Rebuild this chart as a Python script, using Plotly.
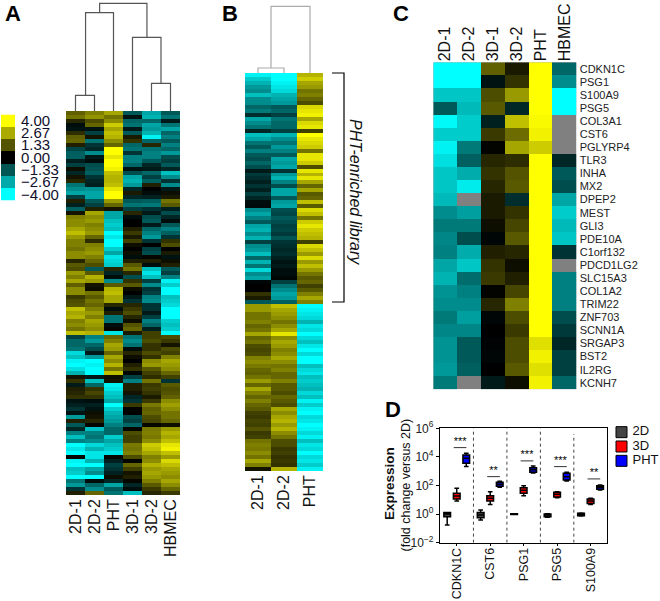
#!/usr/bin/env python
import plotly.graph_objects as go

W, H = 660, 601
FONT = 'Liberation Sans'

# panel A: clustered heatmap, one list per sample
a_samples = ['2D-1', '2D-2', 'PHT', '3D-1', '3D-2', 'HBMEC']
a_2d1 = [1.5, 1.8, 0.6, -0.2, -0.3, 0.7, 1.5, 1.6, 0.5, -1.1, -1.5, -1.5, -0.5, -1, 0.2, -0.6,
         0.3, 0.6, -1.8, -2.2, -2.6, -1, 0.5, -0.5, -1.5, 0.3, 2, 2.2, 2.2, 2.6, 3, 2.4,
         2, 2, 1.8, 2.2, 2.2, 0.6, 1.4, 1.2, 2.4, 2, 2.6, 1.5, 2.2, 2.2, 0.9, 1.2,
         1.3, 3, 2.6, 2.8, 2, 2.2, 1.8, 3, -1, -1.6, -1.6, -1.8, -3.4, -3, -3.8, -4,
         -3.5, -2.8, 0.3, 0.8, -0.4, 0.5, 0.6, 0.8, -0.3, -0.5, -0.8, -0.3, -2.4, 0.5, -1.4, -0.6,
         -2, -3, -2, -4, -3.6, -4, 0.1, -3.8, -4, -3, -3.2, -4, -1.8, -2.4, -0.8, 0.5]
a_2d2 = [2, 2.3, 1.2, 1.6, -0.3, -1, 0.3, -1.8, -0.8, -0.6, -2.2, -0.4, -0.2, -1.2, -1.3, -1.5,
         -0.8, -0.6, -0.5, -2.3, -2.6, -2.6, -1.4, -1, 0.5, 2.6, 2.2, 2.4, 2, 2.2, 2.4, 1.6,
         0.7, 2, 2.2, 2.4, 2, 1.6, 1.2, -1.4, 1.4, 2.8, 2.4, 0.3, 0.2, 1.8, 1.4, 1.8,
         1.6, 2, 2.4, 2, 2.6, 2.4, 2.2, 2.8, -2, -2.4, -1.6, -1.2, -0.4, -2.4, -4, -3.8,
         -4, -4, -0.4, -3, -1.6, 0.8, 1.1, 0.8, -0.2, -0.5, -0.3, 0.2, 0.3, 0.6, 0.1, -3,
         -2, -1.8, -2.2, -3.4, -2.8, -3.6, -3.6, -2.8, -4, -2.6, -2.2, -4, -0.2, -1.6, -2.2, 1.6]
a_pht = [2.6, 1.8, 2.2, 3.2, 2.6, 3, 2.8, 2.2, 1.6, 4, 4, 3.6, 4, 4, 3.8, 3,
         2.8, 2.8, 3, 3.6, 4, 4, 2.4, 1.6, 0.3, -2.6, -2.6, -3, -3.2, -3, -4, -3.6,
         -4, -4, -3.2, -2.6, -3.6, -3.4, -3.2, 0.6, -0.6, -0.2, -2.2, 1.4, 2.8, 3, 2.6, 2.6,
         0.6, -0.2, 0.5, -1.8, -1.8, -0.2, 0.1, -3.6, 1.6, 2, 2.6, 2.4, 1.6, 2.6, 2.2, 2.8,
         1.8, 3, 0.2, 0.3, -3.8, -3.6, -3.2, -3, -2.6, -4, -3.2, -2.8, -2.6, -2.4, -2, -1.6,
         -1.6, -3.2, -2.6, -3, -3.2, -3.6, 0.1, -0.5, -1, -0.8, -0.5, 0.2, -0.6, -2.6, -1.4, -1.8]
a_3d1 = [-1.4, -0.3, -1.6, -1.8, -0.4, -1.4, 0.4, 0.8, -1.6, -1.8, -0.8, -2, -2, -1.6, -0.3, -1.2,
         -2.6, -2.8, -2.4, -0.6, 0.4, -0.6, -1.4, -1.8, -1, 0.6, -0.2, 0, 0, 0.5, 0.9, 0.4,
         1, 0.2, 0, 0.2, -0.2, 0.5, 1.4, 1.8, 0.6, -1.2, 0.8, 1.4, 0.2, 0, -0.4, -0.8,
         0.6, 0.9, 1.2, 0.6, 0.2, 1.3, 1.6, 0.4, -1.8, -2.2, -1.8, -0.2, 0.6, 0.2, 0, 0.5,
         0.8, -0.1, -1, -2, 0.5, 0.5, 0.3, -0.6, -0.8, 0.9, 0.05, 0, -1.2, -1, -1.6, 0.1,
         1.2, 1, 1, 1.9, 1.8, 2, 1.2, 0.1, 1.6, 1, 0.3, 0.5, 0.1, -0.6, -0.2, -3]
a_3d2 = [-2.6, -2.8, -1.6, -2.6, -2.4, -2.8, -3.8, -1.6, 0.6, -1.8, -2, -2, -1.4, -0.6, -0.4, -1.6,
         -1, -1.5, 0.5, 0, -0.2, -0.5, -1.5, -1.9, -0.8, -0.4, -1.2, -1.4, -0.4, -1.6, -2, -2.4,
         -0.8, 0, -1, -1.2, 0.1, 0.5, -0.2, -3, -3.6, -3, -1, -2.2, -0.8, -1, -2, -2.2,
         -0.8, -0.8, -0.4, -1, -2, -1.6, -0.5, 1, 1, 1.2, 0.8, 0.8, 1.2, 0.8, 2.2, 2.4,
         1.4, 1, 0.7, 1.8, 0.9, 1, 0.8, 0.4, 0.9, 1.9, 1.5, 1.6, 1.2, 1.1, 0.1, 1.9,
         2, 1.9, 2.2, 3.2, 3, 2.6, 2, 2.2, 2.8, 2.4, 2.6, 2.4, 2, 1.4, 0.9, 0.6]
a_hbmec = [-1.4, -1.8, -0.4, -1.8, -2.6, -1.6, -2, -1.4, -2, -1.6, -2.4, -1.2, -1, -1.4, -0.6, -3,
           -2.2, -0.8, -2.2, -0.4, 0.2, 0.4, 1.8, 1.4, -0.5, -1.2, -0.6, -0.2, -1.4, -2, -1.5, -0.8,
           0.8, 1.2, 0, 0.4, -0.3, 0.2, 0.5, -1.4, -1, -2, -3.8, -3.2, -4, -4, -3, -3.2,
           -3.4, -4, -4, -4, -3.2, -3, -3.2, -4, 1.2, 0.9, 0.3, 1.2, 1, 2, 2.6, 2.4,
           2.2, 1.6, 1, -0.8, 1.4, 1.2, 1.3, 1.5, 2.2, 2.5, 2.2, 1.8, 1.8, 1.6, 0.2, 2.4,
           2.8, 2.6, 3, 3.6, 3.8, 3, 2.4, 3.4, 3, 2.6, 2.4, 2.2, 2.6, 2.2, 1.6, 0.9]
# merges: left pos, right pos, left height, right height, height
a_merge_left = [0, 0.53, 4, 3, 1.27]
a_merge_right = [1, 2, 5, 4.5, 3.76]
a_merge_lh = [0, 15.7, 0, 0, 98.3]
a_merge_rh = [0, 0, 0, 27.7, 73.7]
a_merge_h = [15.7, 98.3, 27.7, 73.7, 107.7]

key_values = [4, 2.67, 1.33, 0, -1.33, -2.67, -4]
key_labels = ['4.00', '2.67', '1.33', '0.00', '\u22121.33', '\u22122.67', '\u22124.00']

# panel B
b_samples = ['2D-1', '2D-2', 'PHT']
b_2d1 = [-3.8, -3.2, -2.8, -2.4, -2.2, -3, -2.2, -2.2, -1.6, -1.9, -0.7, -2.6, -2.2, -1.8, -0.6, -3, -2.6,
         -1.8, -1.4, -2, -1.4, -1.2, -1.6, -1.2, -0.4, -0.9, -0.7, -0.5, -0.8, -0.5, -1, -0.6, -0.2,
         -0.15, -2.2, -2.6, -2, -1.4, -2.6, -2.8, -2.2, -2.8, -1, -2.2, -2.4, -3, -1.6, -2.8, -1.8, -3.4,
         -2.2, -2.6, -0.1, 0, 0, 0.8, 0.4, -1.4, 2.4, 2.4, 1.8, 1.8, 2, 1.6, 1.8, 2.6, 1.6,
         1.8, 1.2, 1.1, 1.2, 2, 2.2, 1.9, 1.6, 1.5, 1.8, 2.4, 1.6, 2.6, 2, 1.6, 2, 1.6,
         1.4, 1, 0.9, 1.1, 1, 1.3, 0.9, 1, 1.8, 2, 1.9, 2.2, 1.8, 2.6, 2, 0.3]
b_2d2 = [-4, -4, -3.8, -3.6, -3.4, -2.8, -2.6, -2.4, -1.4, -1.6, -1, -1.8, -1.6, -1.6, -1, -2.8, -2.2,
         -1.8, -2.4, -2, -1.4, -2.6, -2.4, -2.6, -0.8, -2.4, -2.8, -2, -1.2, -2.6, -2.6, -1.4, -2.4,
         -2.6, -1.2, -1.1, -1.4, -1.2, -1, -1.1, -0.9, -1.3, -0.8, -0.7, -0.6, -0.7, -0.5, -0.3, -0.4, -0.2,
         -0.2, -0.1, -1, -1.8, -2.2, -2.6, -2.4, -1.5, 3, 2.6, 2.4, 2.2, 1.8, 2.2, 2.6, 3.6, 2.2,
         2.6, 2.4, 2, 2.2, 2.6, 2.2, 1.8, 2, 1.6, 1.6, 2, 1.4, 1.4, 1.2, 1.6, 1.4, 1.2,
         2.6, 2.2, 2.6, 2.8, 2.4, 2.8, 2.2, 1.8, 1.2, 1.2, 0.9, 1, 0.8, 0.9, 0.8, 2.8]
b_pht = [2.8, 3.2, 2.6, 2.4, 1.8, 2, 1.6, 1.2, 3.4, 3.6, 3.8, 2.6, 3.4, 3.6, 1, 4, 3.6,
         3.4, 3.2, 1.8, 3.6, 3.6, 3.2, 1.2, 3.6, 2.8, 3.6, 2.6, 1.6, 2.6, 1.4, 1.6, 3,
         1.4, 3.4, 3, 1.8, 3.2, 3.6, 3.2, 3, 2.8, 1, 3.4, 3, 2.4, 3.4, 2.4, 3, 2.4,
         1.8, 1.4, 1.6, 1, 1.4, 2, 2.6, 2, -4, -3.8, -3.6, -3.4, -2.8, -3.6, -3.4, -4, -3.4,
         -3, -3.6, -4, -3.4, -4, -4, -3, -3.4, -3.6, -3, -3.2, -3, -2.8, -3.4, -3, -3.8, -3.2,
         -3.8, -4, -3.4, -3.6, -4, -3.8, -3.4, -3.8, -3, -3.6, -3.4, -4, -3.4, -3.6, -3.2, -3.8]
b_merge_left = [0, 0.5]
b_merge_right = [1, 2]
b_merge_lh = [0, 5]
b_merge_rh = [0, 0]
b_merge_h = [5, 66.7]

# panel C, None = no measurement (grey)
c_samples = ['2D-1', '2D-2', '3D-1', '3D-2', 'PHT', 'HBMEC']
c_genes = ['CDKN1C', 'PSG1', 'S100A9', 'PSG5', 'COL3A1', 'CST6', 'PGLYRP4', 'TLR3', 'INHA', 'MX2',
           'DPEP2', 'MEST', 'GLI3', 'PDE10A', 'C1orf132', 'PDCD1LG2', 'SLC15A3', 'COL1A2', 'TRIM22',
           'ZNF703', 'SCNN1A', 'SRGAP3', 'BST2', 'IL2RG', 'KCNH7']
c_2d1 = [-4, -4, -3.1, -1.4, -3.9, -3.2, -3.8, -3.5, -3.1, -3.1, -2.9, -2.2, -1.9, -2.1, -2, -2.6, -2.8, -2.3,
         -2.2, -1.9, -2.1, -2.3, -2.3, -2.4, -1.9]
c_2d2 = [-4, -4, -3.1, -2.9, -3.2, -3.2, -1.9, -1.5, -2.7, -3.7, None, -2.5, -1.9, -1.2, -2.7, -3.1, -1.7, -2,
         -2.2, -2.5, -2.1, -1.4, -1.4, -1.5, None]
c_3d1 = [1.5, -0.3, 1.2, 1.4, -0.5, 0.9, 0.05, 0.6, 0.8, 0.6, 0.4, 0.4, 0.2, -0.1, 0.5, 0.8, 0.9, 0.05,
         0.6, -0.1, 0, -0.05, -0.1, 0, -0.4]
c_3d2 = [0.4, 0.8, 2.4, -0.6, 3, 1.7, 2.6, 0.7, 1.3, 1.4, -0.7, 0.8, 1.1, 1.4, 0.6, 0.2, 0.5, 1.1,
         2, 1.2, 0.9, 1.2, 1.2, 1.4, 0.2]
c_pht = [4, 4, 4, 4, 3.9, 3.8, 3.2, 4, 4, 4, 4, 4, 4, 4, 4, 4, 4, 4,
         4, 4, 4, 3.5, 3.8, 3.5, 3.8]
c_hbmec = [-1.6, -2.2, -4, -4, None, None, None, -0.6, -1.4, -1.2, -2.6, -3.2, -2.9, -3.1, -0.8, None, -2, -2,
           -2, -1.2, -0.9, -0.6, -1, -1, -1.6]

# panel D, box stats as log10 fold change
d_genes = ['CDKN1C', 'CST6', 'PSG1', 'PSG5', 'S100A9']
d_groups = ['2D', '3D', 'PHT']
d_colors = ['#444444', '#ff0000', '#0000ff']
d_offsets = [-0.285, 0, 0.285]
d_low = [[-0.76, -0.41, -0.03, -0.22, -0.14], [0.92, 0.68, 1.29, 1.15, 0.68], [3.32, 1.88, 2.88, 2.32, 1.68]]
d_q1 = [[-0.18, -0.25, -0.02, -0.18, -0.12], [1.06, 0.92, 1.45, 1.2, 0.75], [3.55, 1.94, 2.92, 2.39, 1.73]]
d_med = [[0, -0.06, 0, -0.06, 0], [1.27, 1.1, 1.66, 1.38, 0.92], [3.9, 2.08, 3.1, 2.62, 1.87]]
d_q3 = [[0.12, 0.12, 0.02, 0, 0.06], [1.45, 1.29, 1.85, 1.52, 1.06], [4.13, 2.22, 3.25, 2.85, 1.99]]
d_high = [[0.12, 0.29, 0.03, 0.02, 0.08], [1.8, 1.57, 1.99, 1.57, 1.1], [4.25, 2.3, 3.37, 2.92, 2.03]]
sig_level = [4.65, 2.62, 3.72, 3.32, 2.46]
sig_label = ['***', '**', '***', '***', '**']
sig_start = [-0.09, -0.09, -0.09, -0.09, -0.09]
sig_end = [0.29, 0.29, 0.29, 0.29, 0.29]
sep_pos = [0.5, 1.5, 2.5, 3.5]
sep_top = [6, 6, 6, 5.6]
d_ticks = [-2, 0, 2, 4, 6]

# -4 cyan, 0 black, +4 yellow
heat_scale = [[0, '#00ffff'], [0.5, '#000000'], [1, '#ffff00']]
heat_style = dict(zmin=-4, zmax=4, colorscale=heat_scale, showscale=False, hoverinfo='skip')

layout = dict(width=W, height=H, margin=dict(l=0, r=0, t=0, b=0), autosize=False, template='none',
              paper_bgcolor='white', plot_bgcolor='white', showlegend=False,
              font=dict(family=FONT, color='#111111'))


def place(n, x0, x1, y0, y1, xextra=None, yextra=None):
    # axes given by their pixel box on the page
    blank = dict(showgrid=False, zeroline=False, showticklabels=False, ticks='', showline=False, automargin=False)
    xa = dict(blank, domain=[x0 / W, x1 / W], anchor=f'y{n}')
    ya = dict(blank, domain=[1 - y1 / H, 1 - y0 / H], anchor=f'x{n}')
    xa.update(xextra or {})
    ya.update(yextra or {})
    layout[f'xaxis{n}'] = xa
    layout[f'yaxis{n}'] = ya
    return f'x{n}', f'y{n}'


def rows_of(cols):
    return [list(r) for r in zip(*cols)]


def dendro(left, right, lh, rh, h, xa, ya, color):
    xs, ys = [], []
    for i in range(len(h)):
        xs += [left[i], left[i], right[i], right[i], None]
        ys += [lh[i], h[i], h[i], rh[i], None]
    return go.Scatter(x=xs, y=ys, mode='lines', xaxis=xa, yaxis=ya, hoverinfo='skip',
                      line=dict(color=color, width=1.2))


def label_ticks(names, size, **extra):
    return dict(tickmode='array', tickvals=list(range(len(names))), ticktext=names, showticklabels=True,
                tickangle=-90, tickfont=dict(size=size, color='#111111'), ticks='', **extra)


fig = go.Figure()

# A
a_cols = [a_2d1, a_2d2, a_pht, a_3d1, a_3d2, a_hbmec]
xa, ya = place(1, 66, 180, 111, 495, label_ticks(a_samples, 16, range=[-0.5, 5.5]),
               dict(range=[len(a_2d1) - 0.5, -0.5]))
fig.add_trace(go.Heatmap(z=rows_of(a_cols), xaxis=xa, yaxis=ya, **heat_style))
xa, ya = place(2, 66, 180, 0, 111, dict(range=[-0.5, 5.5]), dict(range=[0, 111]))
fig.add_trace(dendro(a_merge_left, a_merge_right, a_merge_lh, a_merge_rh, a_merge_h, xa, ya, '#555555'))
xa, ya = place(3, 1, 15, 114.5, 200.5, dict(range=[-0.5, 0.5]),
               dict(range=[6.5, -0.5], tickmode='array', tickvals=list(range(7)), ticktext=key_labels,
                    showticklabels=True, side='right', ticklen=2, ticks='outside', tickcolor='white',
                    tickfont=dict(size=15, color='#10102a')))
fig.add_trace(go.Heatmap(z=[[v] for v in key_values], xaxis=xa, yaxis=ya, **heat_style))

# B
b_cols = [b_2d1, b_2d2, b_pht]
xa, ya = place(4, 245, 323, 73, 471, label_ticks(b_samples, 16, range=[-0.5, 2.5]),
               dict(range=[len(b_2d1) - 0.5, -0.5]))
fig.add_trace(go.Heatmap(z=rows_of(b_cols), xaxis=xa, yaxis=ya, **heat_style))
xa, ya = place(5, 245, 323, 0, 73, dict(range=[-0.5, 2.5]), dict(range=[0, 73]))
fig.add_trace(dendro(b_merge_left, b_merge_right, b_merge_lh, b_merge_rh, b_merge_h, xa, ya, '#aaaaaa'))

# C, grey layer under the heatmap shows through the missing cells
c_cols = [c_2d1, c_2d2, c_3d1, c_3d2, c_pht, c_hbmec]
xa, ya = place(6, 433.3, 576.7, 62.3, 389.3, label_ticks(c_samples, 16, range=[-0.5, 5.5], side='top'),
               dict(range=[24.5, -0.5], tickmode='array', tickvals=list(range(25)), ticktext=c_genes,
                    showticklabels=True, side='right', ticks='', ticklabelstandoff=2,
                    tickfont=dict(size=11, color='#222222')))
fig.add_trace(go.Heatmap(z=[[0] * 6 for g in c_genes], xaxis=xa, yaxis=ya, showscale=False, hoverinfo='skip',
                         colorscale=[[0, '#808080'], [1, '#808080']]))
fig.add_trace(go.Heatmap(z=rows_of(c_cols), xaxis=xa, yaxis=ya, **heat_style))

# D
xa, ya = place(7, 440, 607.3, 428.3, 542.7,
               dict(range=[-0.5, 4.5], tickmode='array', tickvals=list(range(5)), ticktext=d_genes,
                    showticklabels=True, tickangle=-90, ticks='outside', ticklen=2, tickwidth=1, tickcolor='black',
                    ticklabelstandoff=-3, tickfont=dict(size=12.5, color='#111111'), showline=True, linecolor='black',
                    linewidth=1.3, mirror=True),
               dict(type='log', range=[-2, 6], tickmode='array', tickvals=[10.0 ** t for t in d_ticks],
                    ticktext=[f'10<sup>{t}</sup>'.replace('-', '\u2212') for t in d_ticks], showticklabels=True,
                    ticks='outside', ticklen=3, tickwidth=1, tickcolor='black', tickfont=dict(size=12, color='#222222'),
                    showline=True, linecolor='black', linewidth=1.3, mirror=True))
sx, sy = [], []
for p, top in zip(sep_pos, sep_top):
    sx += [p, p, None]
    sy += [0.01, 10.0 ** top, None]
fig.add_trace(go.Scatter(x=sx, y=sy, mode='lines', xaxis=xa, yaxis=ya, hoverinfo='skip',
                         line=dict(color='#444444', width=1, dash='dot')))
for g, name in enumerate(d_groups):
    fig.add_trace(go.Box(name=name, x=[i + d_offsets[g] for i in range(5)],
                         lowerfence=[10.0 ** v for v in d_low[g]], q1=[10.0 ** v for v in d_q1[g]],
                         median=[10.0 ** v for v in d_med[g]], q3=[10.0 ** v for v in d_q3[g]],
                         upperfence=[10.0 ** v for v in d_high[g]], width=0.2, whiskerwidth=0.7,
                         fillcolor=d_colors[g], line=dict(color='black', width=1.5), xaxis=xa, yaxis=ya,
                         hoverinfo='skip'))
lx, ly = [], []
for i in range(5):
    lx += [i + sig_start[i], i + sig_end[i], None]
    ly += [10.0 ** sig_level[i], 10.0 ** sig_level[i], None]
fig.add_trace(go.Scatter(x=lx, y=ly, mode='lines', xaxis=xa, yaxis=ya, hoverinfo='skip',
                         line=dict(color='#333333', width=1)))
fig.add_trace(go.Scatter(x=[i + (sig_start[i] + sig_end[i]) / 2 for i in range(5)],
                         y=[10.0 ** v for v in sig_level], text=sig_label, mode='text', textposition='top center',
                         textfont=dict(size=11, color='black'), xaxis=xa, yaxis=ya, hoverinfo='skip'))
# D legend
xa, ya = place(8, 612, 660, 425, 468, dict(range=[-9.5, 38.5]), dict(range=[2.5, -0.5]))
fig.add_trace(go.Scatter(x=[0, 0, 0], y=[0, 1, 2], mode='markers',
                         marker=dict(symbol='square', size=11, color=d_colors, line=dict(color='black', width=1)),
                         xaxis=xa, yaxis=ya, hoverinfo='skip'))
fig.add_trace(go.Scatter(x=[11, 11, 11], y=[0, 1, 2], text=d_groups, mode='text', textposition='middle right',
                         textfont=dict(size=13, color='#111111'), xaxis=xa, yaxis=ya, hoverinfo='skip'))


def note(text, x, y, size, **extra):
    return dict(text=text, x=x / W, y=1 - y / H, xref='paper', yref='paper', showarrow=False,
                xanchor='center', yanchor='middle',
                font=dict(size=size, color=extra.pop('color', 'black')), **extra)


layout['annotations'] = [
    note('<b>A</b>', 12.5, 14, 22),
    note('<b>B</b>', 229.5, 14, 22),
    note('<b>C</b>', 401.5, 14, 22),
    note('<b>D</b>', 393, 410, 22),
    note('<i>PHT-enriched library</i>', 355, 192, 16, textangle=90, color='#111111'),
    note('<b>Expression</b>', 390, 484, 13.5, textangle=-90, color='#111111'),
    note('(fold change versus 2D)', 405.5, 485, 12.5, textangle=-90, color='#111111'),
]
# bracket next to B
layout['shapes'] = [
    dict(type='path', path=f'M {332 / W} {1 - 73 / H} L {344 / W} {1 - 73 / H} L {344 / W} {1 - 302 / H} L {332 / W} {1 - 302 / H}',
         xref='paper', yref='paper', line=dict(color='black', width=1.2)),
]

fig.update_layout(layout)
# page margin would push the figure 8px off
fig.write_html('out.html', config=dict(displayModeBar=False),
               post_script="document.body.style.margin='0';document.documentElement.style.overflow='hidden';")
